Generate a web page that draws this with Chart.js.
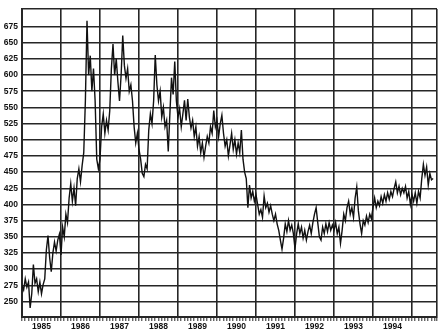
<!DOCTYPE html>
<html>
<head>
<meta charset="utf-8">
<script src="https://cdn.jsdelivr.net/npm/chart.js@4.4.1/dist/chart.umd.min.js"></script>
<style>
  body { margin: 0; background: #fff; }
  canvas { display: block; }
</style>
</head>
<body>
<canvas id="chart" width="439" height="335"></canvas>
<script>
  // half-monthly readings, starting January 1985
  const startYear = 1985;
  const perYear = 24;
  const yearLabels = [1985, 1986, 1987, 1988, 1989, 1990, 1991, 1992, 1993, 1994];
  const priceTicks = [250, 275, 300, 325, 350, 375, 400, 425, 450, 475, 500, 525, 550, 575, 600, 625, 650, 675];

  const prices = [
    // 1985
    275, 268, 285, 272, 280, 240, 262, 307, 278, 285, 265, 280,
    262, 276, 285, 330, 352, 318, 296, 325, 342, 328, 345, 354,
    // 1986
    322, 365, 350, 385, 372, 410, 432, 405, 425, 398, 440, 455,
    435, 460, 480, 560, 684, 600, 630, 575, 610, 560, 470, 455,
    // 1987
    470, 520, 540, 510, 530, 515, 545, 610, 648, 600, 625, 590,
    560, 600, 661, 615, 595, 610, 575, 585, 560, 520, 495, 510,
    // 1988
    485, 470, 448, 443, 462, 455, 515, 540, 525, 560, 631, 585,
    560, 575, 535, 550, 520, 530, 482, 540, 596, 570, 621, 560,
    // 1989
    535, 548, 520, 540, 561, 530, 563, 535, 518, 530, 505, 520,
    490, 505, 480, 495, 473, 490, 505, 495, 520, 510, 545, 520,
    // 1990
    530, 505, 525, 538, 510, 490, 500, 475, 492, 510, 485, 500,
    478, 495, 480, 515, 470, 450, 440, 395, 430, 410, 420, 405,
    // 1991
    415, 400, 385, 392, 380, 413, 395, 402, 388, 398, 385, 375,
    385, 370, 360, 345, 331, 348, 370, 358, 375, 360, 368, 355,
    // 1992
    332, 355, 370, 355, 365, 348, 360, 345, 358, 368, 355, 372,
    385, 395, 372, 350, 345, 365, 355, 370, 358, 372, 360, 368,
    // 1993
    360, 372, 355, 365, 340, 360, 385, 375, 395, 405, 385, 395,
    380, 410, 427, 390, 370, 355, 375, 368, 382, 372, 385, 378,
    // 1994
    395, 410, 395, 405, 398, 412, 402, 415, 405, 418, 408, 420,
    412, 425, 435, 418, 428, 415, 425, 418, 428, 410, 420, 400,
    // 1995
    415, 405, 418, 402, 420, 410, 440, 462, 445, 458, 430, 448,
    438, 440
  ];

  const points = prices.map((v, i) => ({ x: startYear + i / perYear, y: v }));

  const isYear = (v) => Math.abs(v - Math.round(v)) < 1e-6;
  const ink = "#262626";

  new Chart(document.getElementById("chart"), {
    type: "line",
    data: {
      datasets: [
        {
          data: points,
          borderColor: "#111",
          borderWidth: 1.4,
          pointRadius: 0,
          tension: 0,
        },
      ],
    },
    options: {
      responsive: false,
      animation: false,
      layout: { padding: { top: 1, right: 2, left: 0, bottom: 0 } },
      plugins: { legend: { display: false }, tooltip: { enabled: false } },
      scales: {
        x: {
          type: "linear",
          min: 1985,
          max: 1995.641,
          afterBuildTicks: (scale) => {
            const t = [];
            for (let m = 0; m <= 127; m++) t.push({ value: 1985 + m / 12 });
            t.push({ value: scale.max });
            scale.ticks = t;
          },
          afterFit: (scale) => {
            scale.height = 18;
          },
          border: { display: true, color: ink, width: 2 },
          grid: {
            color: (ctx) =>
              ctx.tick && (isYear(ctx.tick.value) || ctx.tick.value > 1995.6) ? ink : "rgba(0,0,0,0)",
            lineWidth: 1.6,
            tickColor: ink,
            tickWidth: 1,
            tickLength: 4,
          },
          ticks: {
            autoSkip: false,
            maxRotation: 0,
            padding: 1,
            labelOffset: 19.5,
            color: "#111",
            font: { family: "Liberation Sans", size: 8.5, weight: "bold" },
            callback: (v) => {
              const y = Math.round(v);
              return isYear(v) && yearLabels.includes(y) ? String(y) : "";
            },
          },
        },
        y: {
          min: 226,
          max: 702,
          afterBuildTicks: (scale) => {
            scale.ticks = priceTicks.map((v) => ({ value: v })).concat([{ value: 702 }]);
          },
          afterFit: (scale) => {
            scale.width = 22;
          },
          border: { display: true, color: ink, width: 2 },
          grid: {
            color: ink,
            lineWidth: 1.5,
            drawTicks: false,
          },
          ticks: {
            padding: 4,
            color: "#111",
            font: { family: "Liberation Sans", size: 8.5, weight: "bold" },
            callback: (v) => (v <= 675 ? String(v) : ""),
          },
        },
      },
    },
  });
</script>
</body>
</html>
